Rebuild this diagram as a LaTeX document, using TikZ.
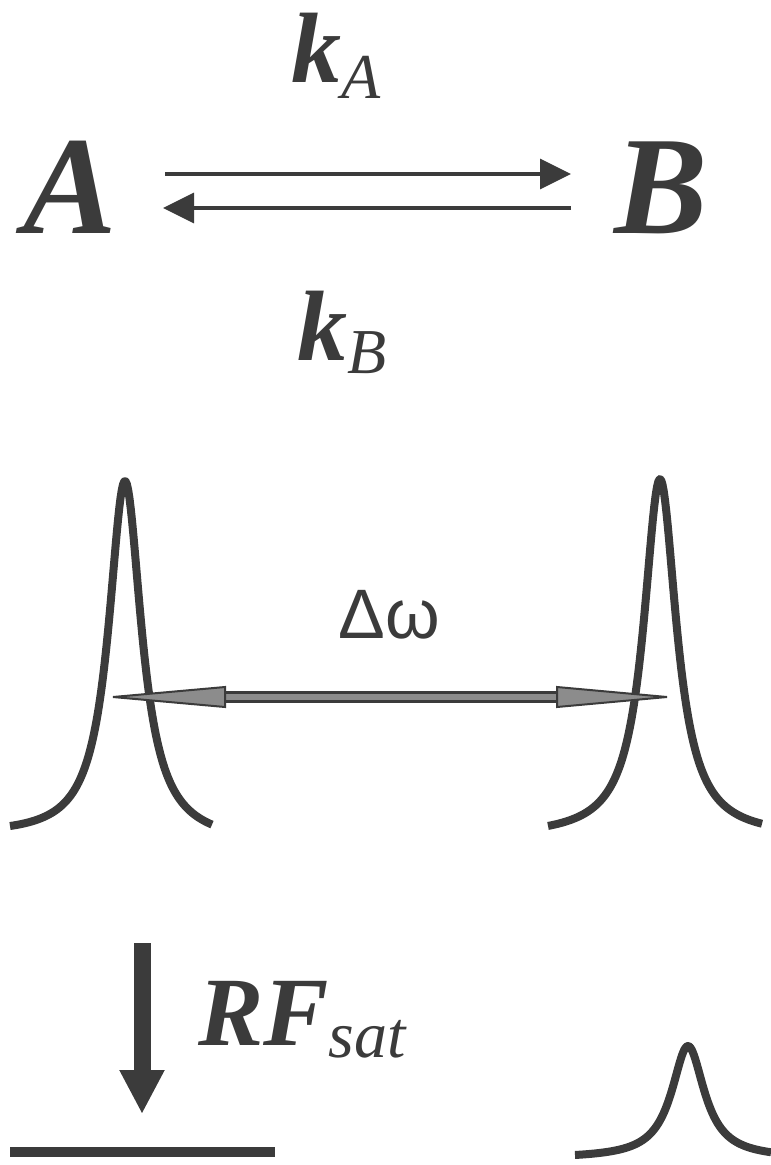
\documentclass[tikz,border=0pt]{standalone}
\usepackage{fontspec}
\setmainfont{Liberation Serif}
\newfontfamily\sansf{Liberation Sans}
\usetikzlibrary{arrows.meta}
\definecolor{ink}{HTML}{3B3B3B}
\definecolor{midgray}{HTML}{8C8C8C}
\tikzset{
  bigletter/.style={inner sep=0pt, text=ink, anchor=base, font=\fontsize{140}{140}\selectfont\bfseries\itshape},
  ratelabel/.style={inner sep=0pt, text=ink, anchor=base west},
  react/.style={draw=ink, line width=3.5pt, -{Triangle[length=31pt,width=30pt]}},
  peak/.style={draw=ink, line width=8pt, line cap=butt, line join=round},
  satarrow/.style={draw=ink, line width=17pt, -{Triangle[length=44pt,width=42pt]}},
}
\begin{document}
\begin{tikzpicture}[x=1pt,y=-1pt]
\useasboundingbox (0,0) rectangle (771,1165);

% species and rates
\node[bigletter] (A) at (70,233) {A};
\node[bigletter] (B) at (661,233) {B};
\node[ratelabel] (kA) at (291,82) {\fontsize{100}{100}\selectfont\bfseries\itshape k\fontsize{64}{64}\selectfont\mdseries\raisebox{-16pt}{A}};
\node[ratelabel] (kB) at (297,360) {\fontsize{100}{100}\selectfont\bfseries\itshape k\fontsize{64}{64}\selectfont\mdseries\raisebox{-13pt}{B}};

% equilibrium arrows
\coordinate (f1) at (165,174);
\coordinate (f2) at (571,174);
\coordinate (b1) at (571,208);
\coordinate (b2) at (163,208);
\draw[react] (f1) -- (f2);
\draw[react] (b1) -- (b2);

% two peaks
\draw[peak] plot[domain=-115:87, samples=160, variable=\t] ({125+\t},{840+0.03*\t-359/(1+(\t/20)^2)});
\draw[peak] plot[domain=-112:102, samples=160, variable=\t] ({660+\t},{837-358/(1+(\t/20)^2)});

% delta omega
\node[inner sep=0pt, text=ink, anchor=base] (dw) at (389,638) {\sansf\fontsize{70}{70}\selectfont Δω};
\coordinate (dl) at (113,697);
\coordinate (dr) at (667,697);
\coordinate (dlb) at (225,697);
\coordinate (drb) at (557,697);
\draw[ink, line width=12pt] (dlb) -- (drb);
\draw[midgray, line width=6pt] ([xshift=-1pt]dlb) -- ([xshift=1pt]drb);
\filldraw[fill=midgray, draw=ink, line width=2pt, line join=miter] (dl) -- ([yshift=-10pt]dlb) -- ([yshift=10pt]dlb) -- cycle;
\filldraw[fill=midgray, draw=ink, line width=2pt, line join=miter] (dr) -- ([yshift=-10pt]drb) -- ([yshift=10pt]drb) -- cycle;

% saturation
\coordinate (s1) at (142,943);
\coordinate (s2) at (142,1114);
\draw[satarrow] (s1) -- (s2);
\node[ratelabel] (rf) at (198,1045) {\fontsize{98}{98}\selectfont\bfseries\itshape RF\fontsize{66}{66}\selectfont\mdseries\raisebox{-12pt}{sat}};
\coordinate (h1) at (10,1152);
\coordinate (h2) at (275,1152);
\draw[ink, line width=10pt] (h1) -- (h2);
\draw[peak] plot[domain=-113:83, samples=160, variable=\t] ({688+\t},{1158.4-112.4/(1+(\t/20)^2)});
\end{tikzpicture}
\end{document}
